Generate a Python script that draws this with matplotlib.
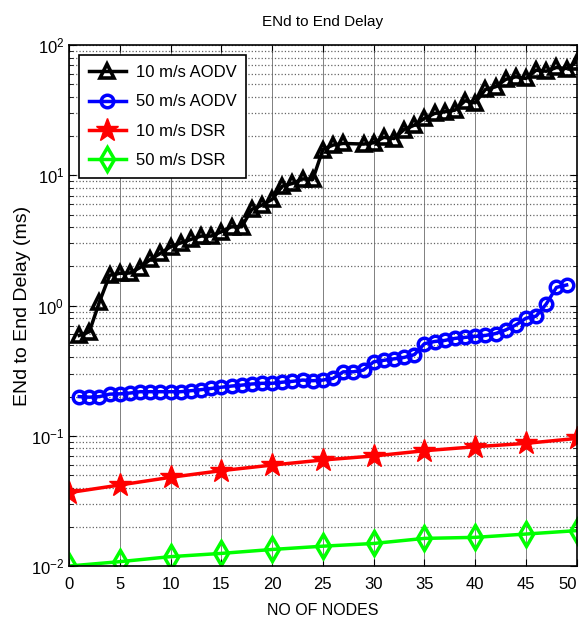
import matplotlib
matplotlib.use("Agg")
import matplotlib.pyplot as plt
import numpy as np

plt.rcParams['font.family'] = ['Liberation Sans', 'DejaVu Sans']

# 10 m/s AODV (no marker visible at 28 nodes)
aodv10_x = [1, 2, 3, 4, 5, 6, 7, 8, 9, 10, 11, 12, 13, 14, 15, 16, 17, 18, 19, 20,
            21, 22, 23, 24, 25, 26, 27, 29, 30, 31, 32, 33, 34, 35, 36, 37, 38, 39, 40,
            41, 42, 43, 44, 45, 46, 47, 48, 49, 50]
aodv10_y = [0.59, 0.63, 1.07, 1.71, 1.77, 1.78, 1.96, 2.26, 2.52, 2.83, 3.03, 3.22, 3.42,
            3.42, 3.69, 4.03, 4.03, 5.48, 5.91, 6.54, 8.26, 8.67, 9.4, 9.3, 15.8, 17.1,
            17.6, 17.4, 17.8, 19.6, 19.2, 22.5, 24.3, 27.4, 29.9, 30.8, 31.7, 37.4, 36.1,
            45.7, 47.9, 54.6, 57.2, 55.5, 64.3, 63.1, 67.4, 66.2, 74.5]

# 50 m/s AODV
aodv50_x = list(range(1, 50))
aodv50_y = [0.200, 0.198, 0.200, 0.209, 0.210, 0.213, 0.218, 0.218, 0.218, 0.218,
            0.218, 0.222, 0.226, 0.231, 0.236, 0.241, 0.245, 0.250, 0.253, 0.253,
            0.258, 0.262, 0.268, 0.265, 0.268, 0.276, 0.31, 0.31, 0.32, 0.37,
            0.38, 0.39, 0.40, 0.42, 0.51, 0.53, 0.54, 0.56, 0.57, 0.58,
            0.59, 0.61, 0.65, 0.71, 0.80, 0.83, 1.03, 1.38, 1.44]

# DSR
dsr_x = [0, 5, 10, 15, 20, 25, 30, 35, 40, 45, 50]
dsr10_y = [0.0366, 0.0419, 0.048, 0.054, 0.0596, 0.0652, 0.070, 0.0768, 0.0824, 0.0875, 0.0955]
dsr50_y = [0.0100, 0.0108, 0.0118, 0.0125, 0.0134, 0.0142, 0.0149, 0.0163, 0.0166, 0.0176, 0.0187]

fig = plt.figure(figsize=(5.82, 6.19), dpi=100)
ax = fig.add_axes([0.1186, 0.0856, 0.8724, 0.8414])

ax.plot(aodv10_x, aodv10_y, color='black', lw=2.5, marker='^', ms=10.5,
        mfc='none', mew=2.6, label='10 m/s AODV')
ax.plot(aodv50_x, aodv50_y, color='blue', lw=2.5, marker='o', ms=9,
        mfc='none', mew=2.5, label='50 m/s AODV')
ax.plot(dsr_x, dsr10_y, color='red', lw=2.5, marker='*', ms=17,
        label='10 m/s DSR')
ax.plot(dsr_x, dsr50_y, color='#00ff00', lw=2.5, marker='d', ms=12,
        mfc='none', mew=2.5, label='50 m/s DSR')

ax.set_yscale('log')
ax.set_xlim(0, 50)
ax.set_ylim(1e-2, 1e2)
ax.set_xticks(np.arange(0, 51, 5))

ax.grid(True, which='major', axis='x', color='0.5', ls='-', lw=0.7)
ax.grid(True, which='both', axis='y', color='0.4', ls=':', lw=0.9)
ax.tick_params(which='both', direction='in', top=True, right=True, labelsize=12)
ax.tick_params(which='major', length=5)
ax.tick_params(which='minor', length=3)
ax.tick_params(axis='x', pad=8)
ax.get_xticklabels()[-1].set_ha('right')
for s in ax.spines.values():
    s.set_linewidth(1.2)

ax.set_title('ENd to End Delay', fontsize=11, pad=14)
ax.set_xlabel('NO OF NODES', fontsize=11.5, labelpad=8)
ax.set_ylabel('ENd to End Delay (ms)', fontsize=14, labelpad=0)

leg = ax.legend(loc='upper left', fontsize=12, fancybox=False, framealpha=1,
                edgecolor='black', borderaxespad=0.6, handlelength=2.2,
                labelspacing=0.85, borderpad=0.6, handletextpad=0.6)
leg.get_frame().set_linewidth(1.2)

fig.savefig('out.png', dpi=100)
